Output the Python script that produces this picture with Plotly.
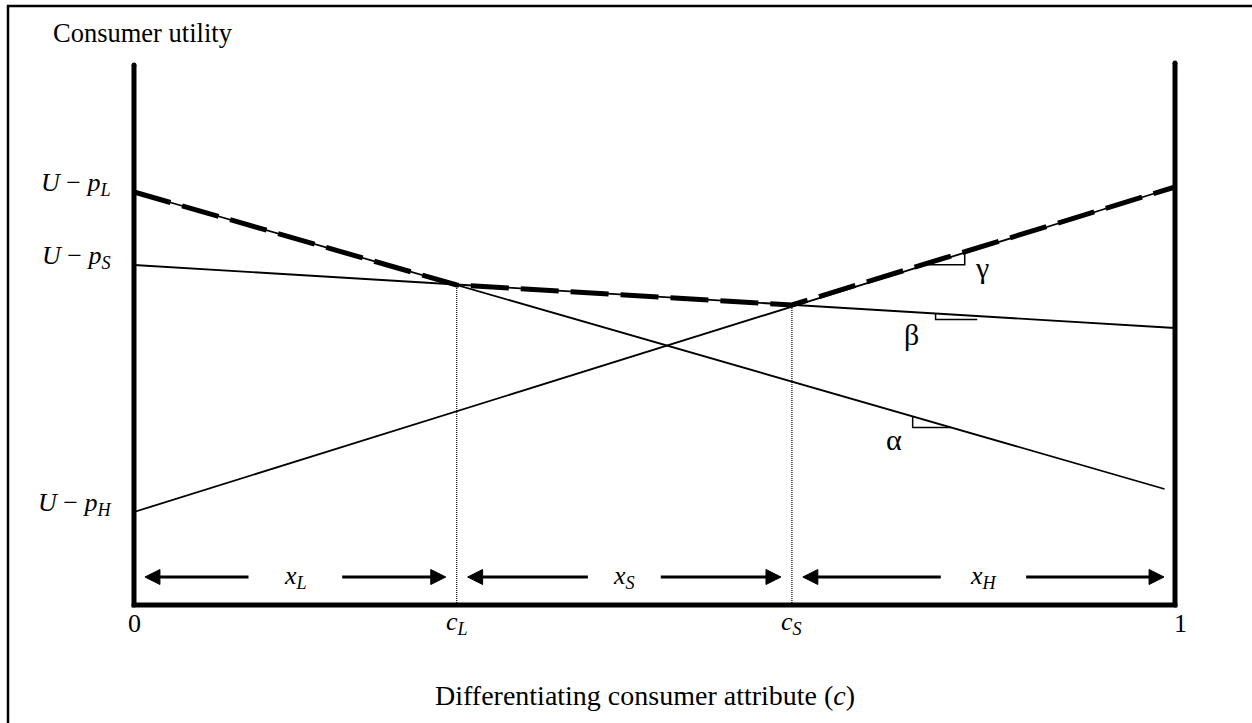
import plotly.graph_objects as go

# ---------------- data ----------------
c_axis = [0.0, 1.0]            # differentiating consumer attribute
c_L = 0.310                    # boundary between L and S segments
c_S = 0.632                    # boundary between S and H segments

# utility lines: (c values, utility values)
line_L_c = [0.0, 0.990]
line_L_u = [4.13, 1.16]        # U - p_L, slope alpha
line_S_c = [0.0, 1.0]
line_S_u = [3.40, 2.77]        # U - p_S, slope beta
line_H_c = [0.0, 1.0]
line_H_u = [0.93, 4.18]        # U - p_H, slope gamma

# upper envelope (chosen product)
env_c = [0.0, c_L, c_S, 1.0]
env_u = [4.13, 3.20, 3.00, 4.18]

axis_top = [5.40, 5.42]        # heights of left / right axis
arrow_u = 0.28                 # height of the segment arrows
segment_labels = ["<i>x</i><sub><i>L</i></sub>", "<i>x</i><sub><i>S</i></sub>", "<i>x</i><sub><i>H</i></sub>"]
intercept_labels = ["<i>U</i> − <i>p</i><sub><i>L</i></sub>",
                    "<i>U</i> − <i>p</i><sub><i>S</i></sub>",
                    "<i>U</i> − <i>p</i><sub><i>H</i></sub>"]
tick_labels = ["0", "<i>c</i><sub><i>L</i></sub>", "<i>c</i><sub><i>S</i></sub>", "1"]
slope_labels = ["α", "β", "γ"]

# ---------------- geometry of the canvas ----------------
W, H = 1252, 723
X0PX, XSCALE = 134, 1041      # pixel of c=0, pixels per unit c
Y0PX, YSCALE = 605, 100       # pixel of u=0, pixels per unit u
xr = [(0 - X0PX) / XSCALE, (W - X0PX) / XSCALE]
yr = [(Y0PX - H) / YSCALE, Y0PX / YSCALE]
FONT = "Liberation Serif"
FS = 26


def lerp(cs, us, c):
    return us[0] + (us[1] - us[0]) * (c - cs[0]) / (cs[1] - cs[0])


fig = go.Figure()

# envelope (thick dashed)
fig.add_trace(go.Scatter(x=env_c, y=env_u, mode="lines",
                         line=dict(color="black", width=5, dash="38px,12px"),
                         hoverinfo="skip"))
# utility lines
for cs, us in [(line_L_c, line_L_u), (line_S_c, line_S_u), (line_H_c, line_H_u)]:
    fig.add_trace(go.Scatter(x=cs, y=us, mode="lines",
                             line=dict(color="black", width=1.8), hoverinfo="skip"))

# dotted verticals at c_L and c_S
for c, u in [(c_L, env_u[1]), (c_S, env_u[2])]:
    fig.add_trace(go.Scatter(x=[c, c], y=[0, u], mode="lines",
                             line=dict(color="black", width=1.2, dash="1px,1px"),
                             hoverinfo="skip"))

# axes (thick)
fig.add_trace(go.Scatter(x=[c_axis[0], c_axis[0], c_axis[1], c_axis[1]],
                         y=[axis_top[0], 0, 0, axis_top[1]],
                         mode="lines+markers",
                         line=dict(color="black", width=5),
                         marker=dict(color="black", size=5),
                         hoverinfo="skip"))

# slope markers
g1, g2 = 0.761, 0.798
ug = lerp(line_H_c, line_H_u, g1)
fig.add_trace(go.Scatter(x=[g1, g2, g2], y=[ug, ug, lerp(line_H_c, line_H_u, g2)],
                         mode="lines", line=dict(color="black", width=1.5), hoverinfo="skip"))
b1, b2 = 0.770, 0.810
ub = lerp(line_S_c, line_S_u, b1)
fig.add_trace(go.Scatter(x=[b1, b1, b2], y=[ub, ub - 0.06, ub - 0.06],
                         mode="lines", line=dict(color="black", width=1.5), hoverinfo="skip"))
a1 = 0.748
ua = lerp(line_L_c, line_L_u, a1)
ua2 = ua - 0.11
a2 = line_L_c[0] + (ua2 - line_L_u[0]) * (line_L_c[1] - line_L_c[0]) / (line_L_u[1] - line_L_u[0])
fig.add_trace(go.Scatter(x=[a1, a1, a2], y=[ua, ua2, ua2],
                         mode="lines", line=dict(color="black", width=1.5), hoverinfo="skip"))

annotations = []
shapes = []
# segment arrows: shafts as lines, heads as filled triangles
bounds = [(c_axis[0], c_L), (c_L, c_S), (c_S, c_axis[1])]
gaps = [0.045, 0.035, 0.041]
tip = 0.0105
head_len = 15 / XSCALE
head_half = 7.5 / YSCALE
for (a, b), lab, g in zip(bounds, segment_labels, gaps):
    m = (a + b) / 2
    lt, rt = a + tip, b - tip
    fig.add_trace(go.Scatter(x=[lt + head_len * 0.8, m - g, None, m + g, rt - head_len * 0.8],
                             y=[arrow_u, arrow_u, None, arrow_u, arrow_u], mode="lines",
                             line=dict(color="black", width=3), hoverinfo="skip"))
    for t, d in [(lt, 1), (rt, -1)]:
        shapes.append(dict(type="path", xref="x", yref="y",
                           path=(f"M {t},{arrow_u} L {t + d * head_len},{arrow_u + head_half} "
                                 f"L {t + d * head_len},{arrow_u - head_half} Z"),
                           fillcolor="black", line=dict(color="black", width=1)))
    annotations.append(dict(x=m, y=arrow_u, xref="x", yref="y", text=lab, showarrow=False,
                            font=dict(family=FONT, size=FS, color="black"),
                            xanchor="center", yanchor="middle"))

# intercept labels
for u, lab in zip([line_L_u[0], line_S_u[0], line_H_u[0]], intercept_labels):
    annotations.append(dict(x=-0.020, y=u + 0.08, xref="x", yref="y", text=lab, showarrow=False,
                            font=dict(family=FONT, size=FS, color="black"),
                            xanchor="right", yanchor="middle"))

# tick labels
for c, lab in zip([c_axis[0], c_L, c_S, 1.0057], tick_labels):
    annotations.append(dict(x=c, y=-0.18, xref="x", yref="y", text=lab, showarrow=False,
                            font=dict(family=FONT, size=FS, color="black"),
                            xanchor="center", yanchor="middle"))

# slope labels
for (c, u), lab in zip([(0.730, 1.66), (0.747, 2.71), (0.8146, 3.38)], slope_labels):
    annotations.append(dict(x=c, y=u, xref="x", yref="y", text=lab, showarrow=False,
                            font=dict(family=FONT, size=30, color="black"),
                            xanchor="center", yanchor="middle"))

# axis titles
annotations.append(dict(x=-0.0797, y=5.72, xref="x", yref="y", text="Consumer utility",
                        showarrow=False, font=dict(family=FONT, size=26.5, color="black"),
                        xanchor="left", yanchor="middle"))
annotations.append(dict(x=0.491, y=-0.90, xref="x", yref="y",
                        text="Differentiating consumer attribute (<i>c</i>)",
                        showarrow=False, font=dict(family=FONT, size=28, color="black"),
                        xanchor="center", yanchor="middle"))

# outer frame (left and top edges visible)
shapes.append(dict(type="path", xref="paper", yref="paper",
                   path=f"M {8/W},-0.05 L {8/W},{1-6/H} L 1.05,{1-6/H}",
                   line=dict(color="black", width=2.5)))

fig.update_layout(width=W, height=H, margin=dict(l=0, r=0, t=0, b=0),
                  paper_bgcolor="white", plot_bgcolor="white", showlegend=False,
                  xaxis=dict(range=xr, visible=False, fixedrange=True),
                  yaxis=dict(range=yr, visible=False, fixedrange=True),
                  annotations=annotations, shapes=shapes)

fig.write_html("out.html", config={"displayModeBar": False},
               post_script="document.body.style.margin='0';document.body.style.overflow='hidden';")
